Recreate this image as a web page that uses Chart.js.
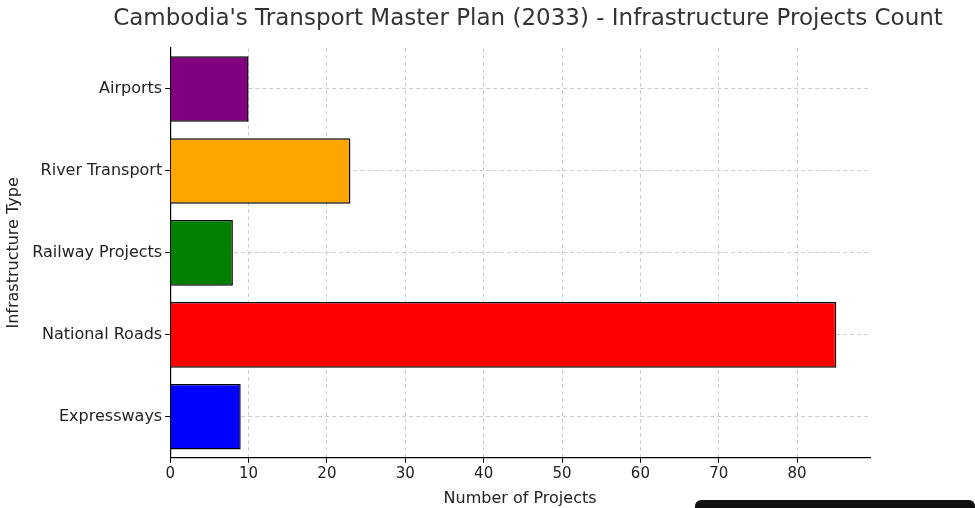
<!DOCTYPE html>
<html><head><meta charset="utf-8">
<script src="https://cdn.jsdelivr.net/npm/chart.js@4"></script>
<style>
body{margin:0;background:#fff;font-family:"DejaVu Sans",sans-serif;}
#wrap{position:relative;width:975px;height:508px;}
#title{position:absolute;left:0;top:4px;width:1056px;text-align:center;font-size:23px;color:#333;white-space:nowrap;}
#bar{position:absolute;left:695px;top:500px;width:280px;height:8px;background:#111;border-radius:6px 6px 0 0;}
</style></head><body>
<div id="wrap"><canvas id="c" width="975" height="508"></canvas>
<div id="title">Cambodia's Transport Master Plan (2033) - Infrastructure Projects Count</div>
<div id="bar"></div></div>
<script>
// categories bottom to top
const categories = ['Expressways', 'National Roads', 'Railway Projects', 'River Transport', 'Airports'];
const projectCounts = [9, 85, 8, 23, 10];
const barColors = ['blue', 'red', 'green', 'orange', 'purple'];
const xTicks = [0, 10, 20, 30, 40, 50, 60, 70, 80];

Chart.defaults.font.family = '"DejaVu Sans", sans-serif';
Chart.defaults.color = '#333';

new Chart(document.getElementById('c'), {
    type: 'bar',
    data: {
        labels: categories,
        datasets: [{
            data: projectCounts,
            backgroundColor: barColors,
            borderColor: '#000',
            borderWidth: 1.5,
            categoryPercentage: 0.8,
            barPercentage: 1
        }]
    },
    options: {
        indexAxis: 'y',
        responsive: false,
        animation: false,
        layout: { padding: { left: 4, right: 105, top: 48, bottom: 0 } },
        plugins: {
            legend: { display: false },
            tooltip: { enabled: false }
        },
        scales: {
            x: {
                min: 0, max: 89.3,
                afterBuildTicks: axis => { axis.ticks = xTicks.map(v => ({ value: v })); },
                ticks: { font: { size: 15 }, color: '#222', padding: 2 },
                grid: { color: '#ccc', tickColor: '#000', tickLength: 5 },
                border: { color: '#000', width: 1.2 },
                title: { display: true, text: 'Number of Projects', font: { size: 16 }, color: '#222', padding: { top: 4, bottom: 0 } }
            },
            y: {
                reverse: true,
                offset: true,
                ticks: { font: { size: 16 }, color: '#222', padding: 3 },
                grid: { offset: false, color: '#ccc', tickColor: '#000', tickLength: 5 },
                border: { color: '#000', width: 1.2 },
                title: { display: true, text: 'Infrastructure Type', font: { size: 16 }, color: '#222', padding: { top: 0, bottom: 6 } }
            }
        }
    },
    plugins: [{
        id: 'dashGrid',
        beforeDraw(chart) {
            ['x', 'y'].forEach(k => { chart.scales[k].options.grid.borderDash = [4, 3]; chart.scales[k].options.border.dash = [4, 3]; });
        }
    }]
});
</script></body></html>
